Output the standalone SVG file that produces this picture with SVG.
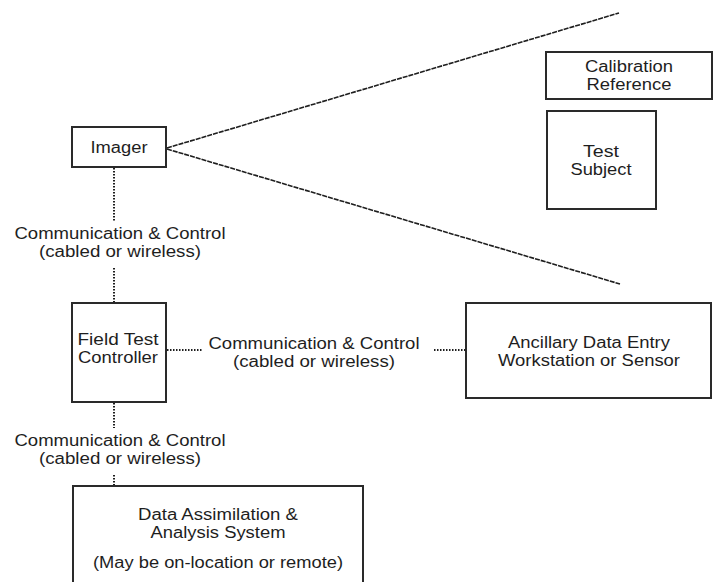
<svg xmlns="http://www.w3.org/2000/svg" width="719" height="582" viewBox="0 0 719 582">
<style>
  .box { fill: #ffffff; stroke: #2a2a2a; stroke-width: 2; }
  .lbl { font-family: "Liberation Sans", Arial, sans-serif; font-size: 16px; fill: #1e1e1e; text-anchor: middle; }
  .dot { fill: none; stroke: #1e1e1e; stroke-width: 2; stroke-dasharray: 1.5 1.5; }
  .ray { fill: none; stroke: #1e1e1e; stroke-width: 1.6; stroke-dasharray: 5 1; }
</style>
<rect width="719" height="582" fill="#ffffff"/>
<g id="connectors">
  <line class="ray" x1="167" y1="148" x2="619" y2="13"/>
  <line class="ray" x1="167" y1="149" x2="620" y2="284"/>
  <line class="dot" x1="114" y1="168" x2="114" y2="221"/>
  <line class="dot" x1="114" y1="268" x2="114" y2="302"/>
  <line class="dot" x1="167" y1="350" x2="203" y2="350"/>
  <line class="dot" x1="434" y1="350" x2="466" y2="350"/>
  <line class="dot" x1="114" y1="403" x2="114" y2="428"/>
  <line class="dot" x1="114" y1="475" x2="114" y2="486"/>
  <g id="label-imager-ftc">
    <text class="lbl" x="120" y="239" textLength="211" lengthAdjust="spacingAndGlyphs">Communication &amp; Control</text>
    <text class="lbl" x="120" y="257" textLength="162" lengthAdjust="spacingAndGlyphs">(cabled or wireless)</text>
  </g>
  <g id="label-ftc-ancillary">
    <text class="lbl" x="314" y="349" textLength="211" lengthAdjust="spacingAndGlyphs">Communication &amp; Control</text>
    <text class="lbl" x="314" y="367" textLength="162" lengthAdjust="spacingAndGlyphs">(cabled or wireless)</text>
  </g>
  <g id="label-ftc-data">
    <text class="lbl" x="120" y="446" textLength="211" lengthAdjust="spacingAndGlyphs">Communication &amp; Control</text>
    <text class="lbl" x="120" y="464" textLength="162" lengthAdjust="spacingAndGlyphs">(cabled or wireless)</text>
  </g>
</g>
<g id="imager">
  <rect class="box" x="72" y="127" width="94" height="40"/>
  <text class="lbl" x="119" y="153" textLength="57" lengthAdjust="spacingAndGlyphs">Imager</text>
</g>
<g id="calibration-reference">
  <rect class="box" x="546" y="52" width="166" height="47"/>
  <text class="lbl" x="629" y="72" textLength="88" lengthAdjust="spacingAndGlyphs">Calibration</text>
  <text class="lbl" x="629" y="90" textLength="85" lengthAdjust="spacingAndGlyphs">Reference</text>
</g>
<g id="test-subject">
  <rect class="box" x="547" y="111" width="109" height="98"/>
  <text class="lbl" x="601" y="157" textLength="36" lengthAdjust="spacingAndGlyphs">Test</text>
  <text class="lbl" x="601" y="175" textLength="61" lengthAdjust="spacingAndGlyphs">Subject</text>
</g>
<g id="field-test-controller">
  <rect class="box" x="72" y="303" width="94" height="99"/>
  <text class="lbl" x="118" y="345" textLength="81" lengthAdjust="spacingAndGlyphs">Field Test</text>
  <text class="lbl" x="118" y="363" textLength="80" lengthAdjust="spacingAndGlyphs">Controller</text>
</g>
<g id="ancillary">
  <rect class="box" x="466" y="303" width="245" height="95"/>
  <text class="lbl" x="589" y="348" textLength="162" lengthAdjust="spacingAndGlyphs">Ancillary Data Entry</text>
  <text class="lbl" x="589" y="366" textLength="182" lengthAdjust="spacingAndGlyphs">Workstation or Sensor</text>
</g>
<g id="data-assimilation">
  <rect class="box" x="73" y="486" width="290" height="110"/>
  <text class="lbl" x="218" y="520" textLength="160" lengthAdjust="spacingAndGlyphs">Data Assimilation &amp;</text>
  <text class="lbl" x="218" y="538" textLength="135" lengthAdjust="spacingAndGlyphs">Analysis System</text>
  <text class="lbl" x="218" y="568" textLength="250" lengthAdjust="spacingAndGlyphs">(May be on-location or remote)</text>
</g>
</svg>
